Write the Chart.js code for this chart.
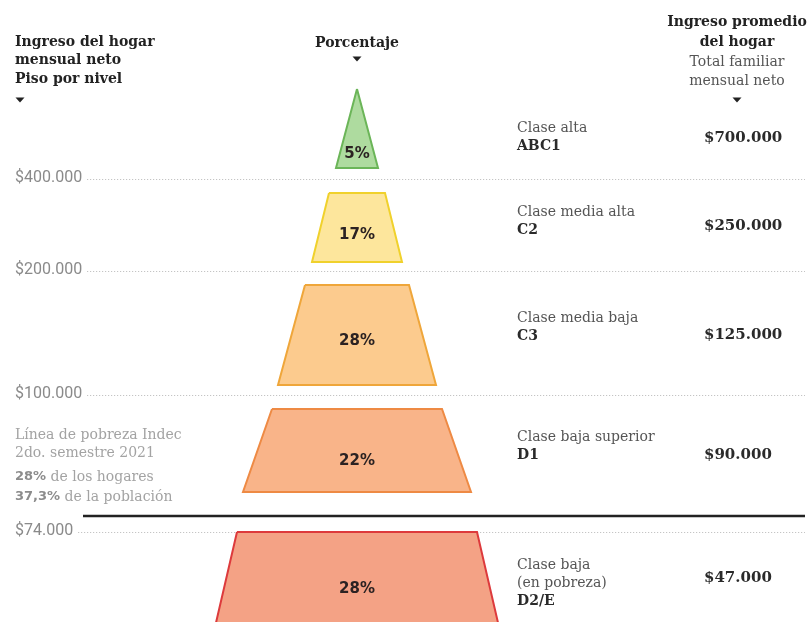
<!DOCTYPE html>
<html><head><meta charset="utf-8">
<script src="https://cdn.jsdelivr.net/npm/chart.js@4.4.1/dist/chart.umd.min.js"></script>
<style>html,body{margin:0;padding:0;background:#fff;overflow:hidden}canvas{display:block}</style>
</head><body>
<canvas id="c" width="809" height="622"></canvas>
<script>
// ---------- DATA ----------
const classNames = [['Clase alta'], ['Clase media alta'], ['Clase media baja'], ['Clase baja superior'], ['Clase baja', '(en pobreza)']];
const classCodes = ['ABC1', 'C2', 'C3', 'D1', 'D2/E'];
const sharePct = [5, 17, 28, 22, 28];
const avgIncome = [700000, 250000, 125000, 90000, 47000];
const floorIncome = [400000, 200000, 100000, 74000];
const povertyHouseholdsPct = 28;
const povertyPopulationPct = 37.3;

// ---------- LAYOUT (picture geometry, in scale units) ----------
const layout = {
  width: 809, height: 622, centerX: 357,
  tierTop: [89, 193, 285, 409, 532],
  tierBottom: [168, 262, 385, 492, 640],
  topHalf: [0, 28, 52, 85, 120],
  bottomHalf: [21, 45, 79, 114, 145],
  pctLabelY: [154, 235, 341, 461, 589],
  rowY: [138, 226, 335, 455, 578],
  classY: [128, 212, 318, 437, 565],
  floorY: [179, 271, 395, 532],
  povertyY: 516,
  classX: 517, valueX: 704, leftX: 15, rightHeadX: 737
};
const styles = {
  fill: ['#aedb9f', '#fde69c', '#fccb8e', '#f9b489', '#f4a285'],
  stroke: ['#6bb558', '#f0d12c', '#efa63a', '#ee8a44', '#dd3a3c']
};

function money(n) { return '$' + String(n).replace(/\B(?=(\d{3})+(?!\d))/g, '.'); }
function pct(n) { return String(n).replace('.', ',') + '%'; }

const datasets = sharePct.map((p, i) => ({
  label: classCodes[i],
  data: [
    { x: -layout.topHalf[i], y: layout.tierTop[i] },
    { x: layout.topHalf[i], y: layout.tierTop[i] },
    { x: layout.bottomHalf[i], y: layout.tierBottom[i] },
    { x: -layout.bottomHalf[i], y: layout.tierBottom[i] },
    { x: -layout.topHalf[i], y: layout.tierTop[i] }
  ],
  showLine: true, fill: 'shape', tension: 0,
  backgroundColor: styles.fill[i], borderColor: styles.stroke[i],
  borderWidth: 2, borderJoinStyle: 'miter', pointRadius: 0, pointHoverRadius: 0
}));

function arrow(ctx, x, y) {
  ctx.save(); ctx.fillStyle = '#222'; ctx.beginPath();
  ctx.moveTo(x - 4.5, y - 2.5); ctx.lineTo(x + 4.5, y - 2.5); ctx.lineTo(x, y + 2.5); ctx.closePath(); ctx.fill(); ctx.restore();
}

const SERIF = '"DejaVu Serif", serif';
const SANS = '"DejaVu Sans", sans-serif';

const guides = {
  id: 'guides',
  beforeDatasetsDraw(chart) {
    const { ctx, scales: { x, y } } = chart;
    const right = x.getPixelForValue(layout.width - layout.centerX - 4);
    ctx.save();
    ctx.font = '16px Roboto, sans-serif';
    ctx.textBaseline = 'middle'; ctx.textAlign = 'left';
    floorIncome.forEach((v, i) => {
      const py = y.getPixelForValue(layout.floorY[i]);
      const label = money(v);
      ctx.fillStyle = '#8a8a8a';
      ctx.fillText(label, layout.leftX, py - 1);
      const start = layout.leftX + ctx.measureText(label).width + 5;
      ctx.strokeStyle = '#b9b9b9'; ctx.lineWidth = 1; ctx.setLineDash([1, 2]);
      ctx.beginPath(); ctx.moveTo(start, Math.round(py) + 0.5); ctx.lineTo(right, Math.round(py) + 0.5); ctx.stroke();
    });
    ctx.setLineDash([]);
    const pv = y.getPixelForValue(layout.povertyY);
    ctx.strokeStyle = '#222'; ctx.lineWidth = 2.5;
    ctx.beginPath(); ctx.moveTo(83, pv); ctx.lineTo(right, pv); ctx.stroke();
    ctx.restore();
  },
  afterDatasetsDraw(chart) {
    const { ctx, scales: { x, y } } = chart;
    ctx.save();
    ctx.font = 'bold 15px ' + SANS; ctx.fillStyle = '#2b2222';
    ctx.textAlign = 'center'; ctx.textBaseline = 'middle';
    sharePct.forEach((p, i) => ctx.fillText(p + '%', x.getPixelForValue(0), y.getPixelForValue(layout.pctLabelY[i])));
    ctx.restore();
  },
  afterDraw(chart) {
    const { ctx, scales: { x, y } } = chart;
    const cx = x.getPixelForValue(0);
    ctx.save();
    ctx.textBaseline = 'middle';
    // left header
    ctx.textAlign = 'left'; ctx.fillStyle = '#222'; ctx.font = 'bold 14px ' + SERIF;
    ['Ingreso del hogar', 'mensual neto', 'Piso por nivel'].forEach((t, k) => ctx.fillText(t, layout.leftX, 42 + k * 18.5));
    arrow(ctx, 20, 100);
    // center header
    ctx.textAlign = 'center';
    ctx.fillText('Porcentaje', cx, 43);
    arrow(ctx, cx, 59);
    // right header
    ctx.fillText('Ingreso promedio', layout.rightHeadX, 22);
    ctx.fillText('del hogar', layout.rightHeadX, 42);
    ctx.font = '14px ' + SERIF; ctx.fillStyle = '#555';
    ctx.fillText('Total familiar', layout.rightHeadX, 62);
    ctx.fillText('mensual neto', layout.rightHeadX, 81);
    arrow(ctx, layout.rightHeadX, 100);
    // class column and values
    ctx.textAlign = 'left';
    classNames.forEach((lines, i) => {
      let yy = layout.classY[i];
      ctx.font = '14px ' + SERIF; ctx.fillStyle = '#555';
      lines.forEach(t => { ctx.fillText(t, layout.classX, y.getPixelForValue(yy)); yy += 18; });
      ctx.font = 'bold 14px ' + SERIF; ctx.fillStyle = '#2a2a2a';
      ctx.fillText(classCodes[i], layout.classX, y.getPixelForValue(yy));
      ctx.font = 'bold 15px ' + SERIF; ctx.fillStyle = '#2a2a2a';
      ctx.fillText(money(avgIncome[i]), layout.valueX, y.getPixelForValue(layout.rowY[i]));
    });
    // poverty note
    ctx.font = '14px ' + SERIF; ctx.fillStyle = '#a3a3a3';
    ctx.fillText('Línea de pobreza Indec', layout.leftX, 435);
    ctx.fillText('2do. semestre 2021', layout.leftX, 453);
    [[pct(povertyHouseholdsPct), ' de los hogares', 477], [pct(povertyPopulationPct), ' de la población', 497]].forEach(([b, r, yy]) => {
      ctx.font = 'bold 13px ' + SANS; ctx.fillStyle = '#8c8c8c';
      ctx.fillText(b, layout.leftX, yy);
      const w = ctx.measureText(b).width;
      ctx.font = '14px ' + SERIF; ctx.fillStyle = '#a3a3a3';
      ctx.fillText(r, layout.leftX + w, yy);
    });
    ctx.restore();
  }
};

new Chart(document.getElementById('c'), {
  type: 'scatter',
  data: { datasets },
  options: {
    responsive: false, animation: false,
    layout: { padding: 0 },
    plugins: { legend: { display: false }, tooltip: { enabled: false } },
    scales: {
      x: { type: 'linear', display: false, min: -layout.centerX, max: layout.width - layout.centerX },
      y: { type: 'linear', display: false, reverse: true, min: 0, max: layout.height }
    }
  },
  plugins: [guides]
});
</script>
</body></html>
